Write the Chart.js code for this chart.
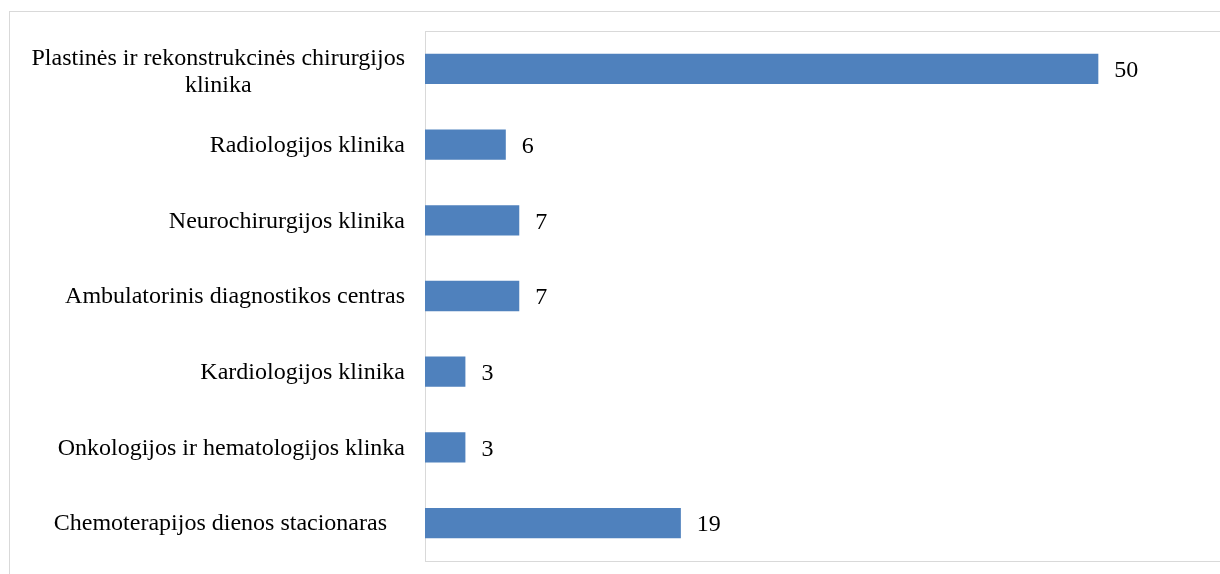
<!DOCTYPE html>
<html>
<head>
<meta charset="utf-8">
<script src="https://cdn.jsdelivr.net/npm/chart.js@4"></script>
<style>
  html, body { margin: 0; padding: 0; background: #fff; overflow: hidden; }
  #frame { position: absolute; left: 9px; top: 11px; width: 1300px; height: 700px; border: 1px solid #d9d9d9; box-sizing: border-box; }
  #wrap { position: absolute; left: 0; top: 0; width: 1240px; height: 574px; }
</style>
</head>
<body>
<div id="frame"></div>
<div id="wrap"><canvas id="chart" width="1240" height="574"></canvas></div>
<script>
var categories = [
    ['Plastinės ir rekonstrukcinės chirurgijos', 'klinika'],
    'Radiologijos klinika',
    'Neurochirurgijos klinika',
    'Ambulatorinis diagnostikos centras',
    'Kardiologijos klinika',
    'Onkologijos ir hematologijos klinka',
    'Chemoterapijos dienos stacionaras   '
];
var values = [50, 6, 7, 7, 3, 3, 19];

var FONT = '24px "Liberation Serif", "Times New Roman", serif';

// plot area frame
var plotBorder = {
    id: 'plotBorder',
    beforeDatasetsDraw: function (chart) {
        var a = chart.chartArea, ctx = chart.ctx;
        ctx.save();
        ctx.strokeStyle = '#d9d9d9';
        ctx.lineWidth = 1;
        ctx.strokeRect(Math.round(a.left) + 0.5, Math.round(a.top) + 0.5,
            Math.round(a.right - a.left), Math.round(a.bottom - a.top));
        ctx.restore();
    }
};

// category labels (multi-line ones centred on their widest line) + bar values
var textLabels = {
    id: 'textLabels',
    afterDatasetsDraw: function (chart) {
        var ctx = chart.ctx;
        var yScale = chart.scales.y;
        var meta = chart.getDatasetMeta(0);
        var rightX = yScale.right - 20;
        var lineH = 27;

        ctx.save();
        ctx.font = FONT;
        ctx.fillStyle = '#000';
        ctx.textBaseline = 'middle';

        categories.forEach(function (label, i) {
            var y = yScale.getPixelForTick(i) + 1;
            if (Array.isArray(label)) {
                var widest = Math.max.apply(null, label.map(function (l) { return ctx.measureText(l).width; }));
                var cx = rightX - widest / 2;
                var y0 = y + 2 - (label.length - 1) * lineH / 2;
                ctx.textAlign = 'center';
                label.forEach(function (l, j) {
                    ctx.fillText(l, cx, y0 + j * lineH);
                });
            } else {
                ctx.textAlign = 'right';
                ctx.fillText(label, rightX, y);
            }
        });

        ctx.textAlign = 'left';
        meta.data.forEach(function (bar, i) {
            ctx.fillText(String(values[i]), bar.x + 16, bar.y + 2);
        });
        ctx.restore();
    }
};

new Chart(document.getElementById('chart'), {
    type: 'bar',
    data: {
        labels: categories,
        datasets: [{
            data: values,
            backgroundColor: '#4F81BD',
            borderWidth: 0,
            barPercentage: 0.4,
            categoryPercentage: 1
        }]
    },
    options: {
        indexAxis: 'y',
        responsive: false,
        animation: false,
        devicePixelRatio: 1,
        layout: { padding: { top: 31, bottom: 13, left: 0, right: 7 } },
        plugins: {
            legend: { display: false },
            tooltip: { enabled: false }
        },
        scales: {
            x: {
                display: false,
                min: 0,
                max: 60
            },
            y: {
                ticks: { display: false },
                grid: { display: false, drawTicks: false },
                border: { display: false },
                afterFit: function (scale) { scale.width = 425; }
            }
        }
    },
    plugins: [plotBorder, textLabels]
});
</script>
</body>
</html>
